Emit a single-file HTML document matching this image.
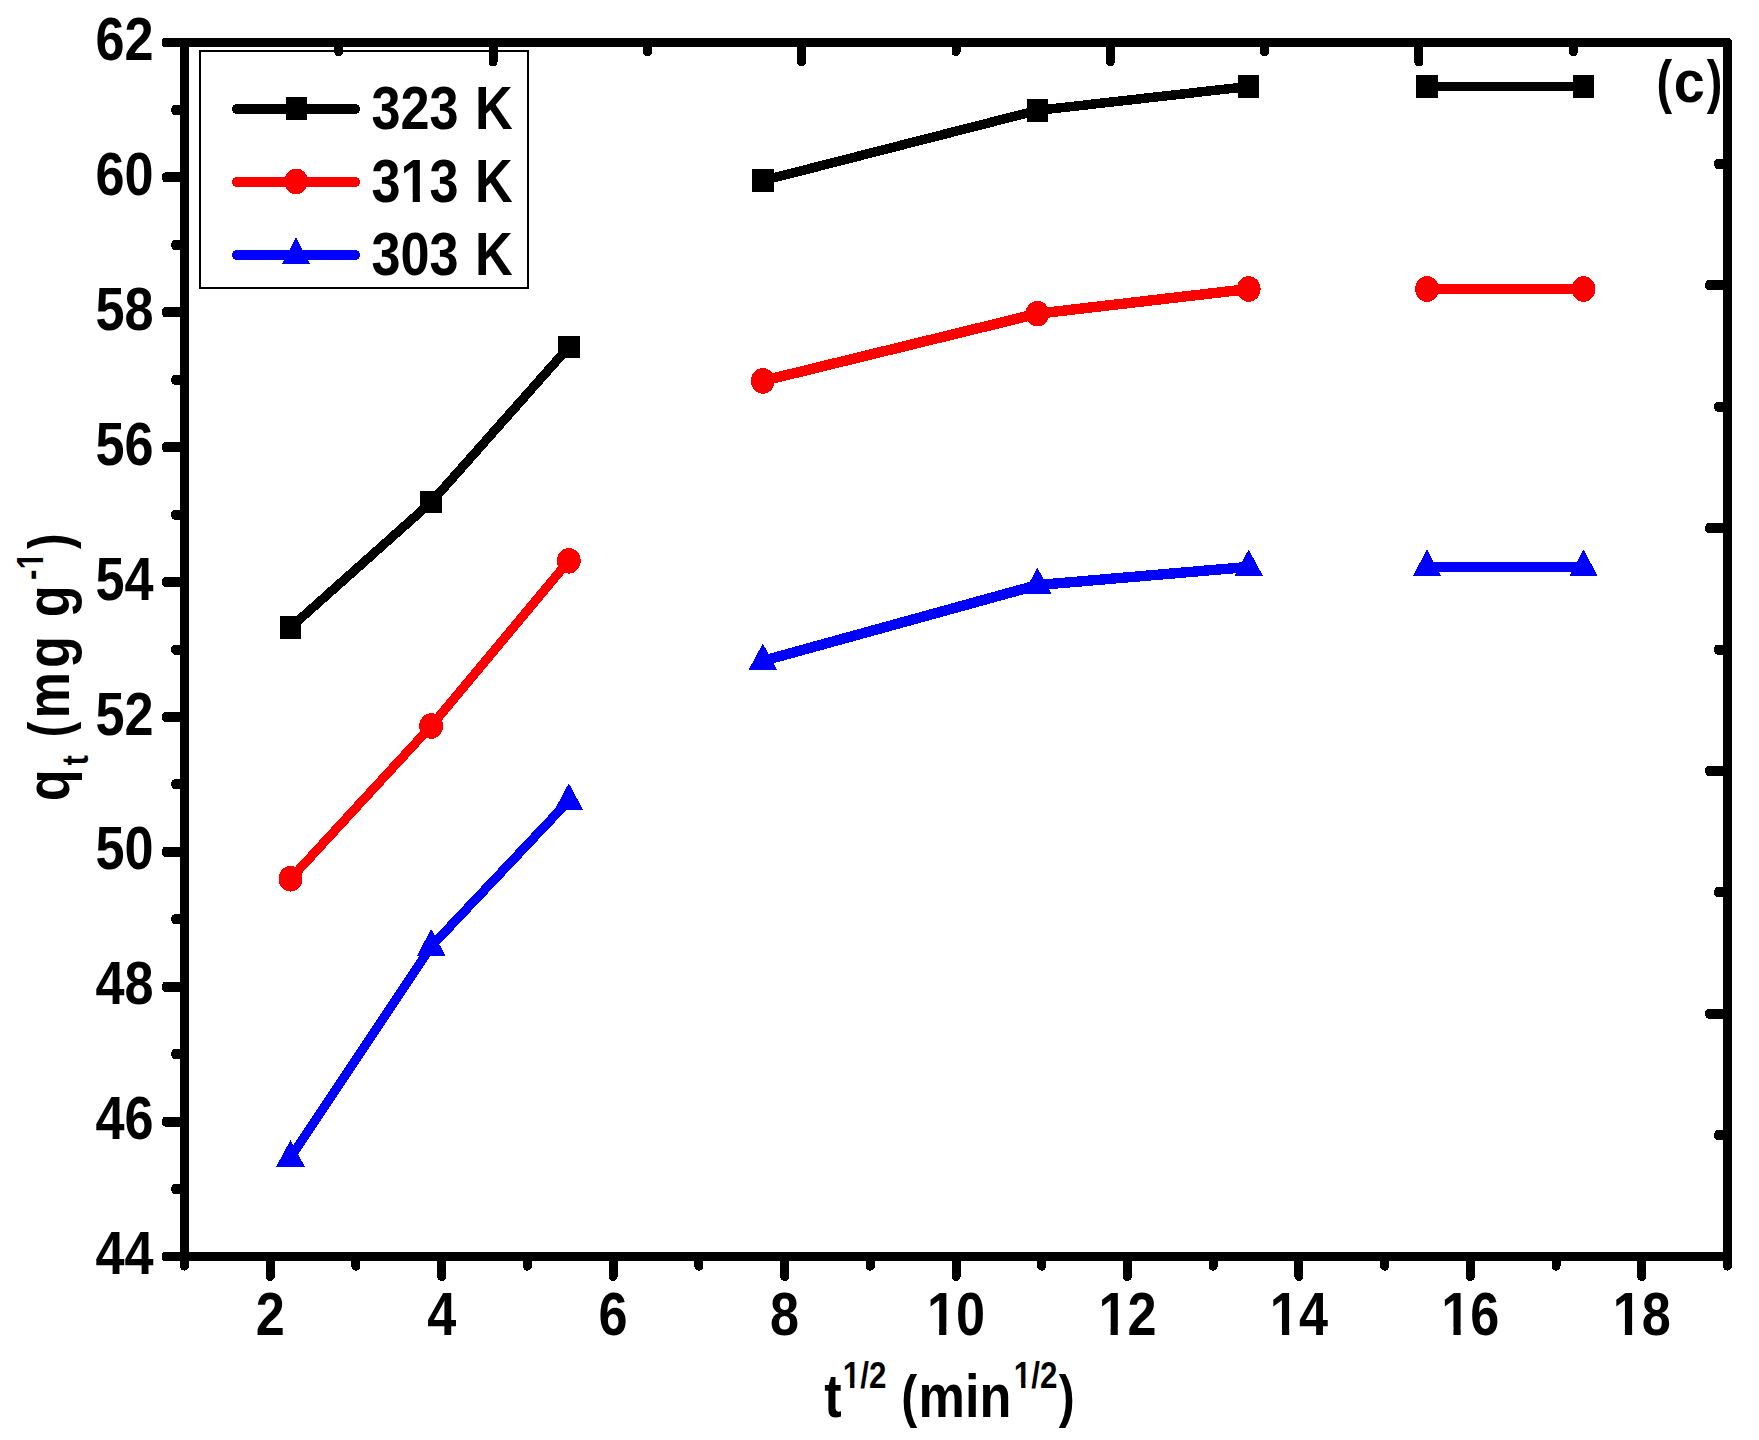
<!DOCTYPE html>
<html lang="en"><head><meta charset="utf-8"><title>Intraparticle diffusion plot (c)</title>
<style>html,body{margin:0;padding:0;background:#fff}svg{display:block}</style></head><body>
<svg width="1759" height="1440" viewBox="0 0 1759 1440" shape-rendering="crispEdges">
<rect width="1759" height="1440" fill="#fff"/>
<rect x="200" y="51" width="328" height="237" fill="#fff" stroke="#000" stroke-width="2"/>
<g stroke="#000" stroke-width="9" stroke-linecap="round" fill="none">
<path d="M184.5 42.5V1256.5M184.5 1256.5H1727.5" stroke-linecap="square"/>
<path d="M180.0 38H1729.8L1732 40.2V1261.0H1723V47H180.0Z" fill="#000" stroke="none"/>
<path d="M184.50 1256.5V1266.20M270.22 1256.5V1276.50M355.94 1256.5V1266.20M441.67 1256.5V1276.50M527.39 1256.5V1266.20M613.11 1256.5V1276.50M698.83 1256.5V1266.20M784.56 1256.5V1276.50M870.28 1256.5V1266.20M956.00 1256.5V1276.50M1041.72 1256.5V1266.20M1127.44 1256.5V1276.50M1213.17 1256.5V1266.20M1298.89 1256.5V1276.50M1384.61 1256.5V1266.20M1470.33 1256.5V1276.50M1556.06 1256.5V1266.20M1641.78 1256.5V1276.50M1727.50 1256.5V1266.20M338.80 42.5V51.80M493.10 42.5V62.00M647.40 42.5V51.80M801.70 42.5V62.00M956.00 42.5V51.80M1110.30 42.5V62.00M1264.60 42.5V51.80M1418.90 42.5V62.00M1573.20 42.5V51.80"/>
<path d="M184.5 1252.00H165.00A3.2 4.5 0 0 0 165.00 1261.00H184.5ZM184.5 1184.06H174.40A3.2 5.0 0 0 0 174.40 1194.06H184.5ZM184.5 1116.61H165.00A3.2 5.0 0 0 0 165.00 1126.61H184.5ZM184.5 1049.17H174.40A3.2 5.0 0 0 0 174.40 1059.17H184.5ZM184.5 981.72H165.00A3.2 5.0 0 0 0 165.00 991.72H184.5ZM184.5 914.28H174.40A3.2 5.0 0 0 0 174.40 924.28H184.5ZM184.5 846.83H165.00A3.2 5.0 0 0 0 165.00 856.83H184.5ZM184.5 779.39H174.40A3.2 5.0 0 0 0 174.40 789.39H184.5ZM184.5 711.94H165.00A3.2 5.0 0 0 0 165.00 721.94H184.5ZM184.5 644.50H174.40A3.2 5.0 0 0 0 174.40 654.50H184.5ZM184.5 577.06H165.00A3.2 5.0 0 0 0 165.00 587.06H184.5ZM184.5 509.61H174.40A3.2 5.0 0 0 0 174.40 519.61H184.5ZM184.5 442.17H165.00A3.2 5.0 0 0 0 165.00 452.17H184.5ZM184.5 374.72H174.40A3.2 5.0 0 0 0 174.40 384.72H184.5ZM184.5 307.28H165.00A3.2 5.0 0 0 0 165.00 317.28H184.5ZM184.5 239.83H174.40A3.2 5.0 0 0 0 174.40 249.83H184.5ZM184.5 172.39H165.00A3.2 5.0 0 0 0 165.00 182.39H184.5ZM184.5 104.94H174.40A3.2 5.0 0 0 0 174.40 114.94H184.5ZM184.5 38.00H165.00A3.2 4.5 0 0 0 165.00 47.00H184.5ZM1727.5 158.90H1717.20A3.2 5.0 0 0 0 1717.20 168.90H1727.5ZM1727.5 280.30H1708.20A3.2 5.0 0 0 0 1708.20 290.30H1727.5ZM1727.5 401.70H1717.20A3.2 5.0 0 0 0 1717.20 411.70H1727.5ZM1727.5 523.10H1708.20A3.2 5.0 0 0 0 1708.20 533.10H1727.5ZM1727.5 644.50H1717.20A3.2 5.0 0 0 0 1717.20 654.50H1727.5ZM1727.5 765.90H1708.20A3.2 5.0 0 0 0 1708.20 775.90H1727.5ZM1727.5 887.30H1717.20A3.2 5.0 0 0 0 1717.20 897.30H1727.5ZM1727.5 1008.70H1708.20A3.2 5.0 0 0 0 1708.20 1018.70H1727.5ZM1727.5 1130.10H1717.20A3.2 5.0 0 0 0 1717.20 1140.10H1727.5Z" fill="#000" stroke="none"/>
</g>
<g stroke="#000" fill="none" stroke-linejoin="round">
<polyline points="290.50,627.50 431.20,502.20 568.80,347.00" stroke-width="9.2"/>
<polyline points="762.80,180.60 1037.40,110.40 1248.70,86.50" stroke-width="9.5"/>
<polyline points="1427.00,86.50 1583.50,86.50" stroke-width="9"/>
</g>
<g><rect x="279.75" y="616.25" width="21.5" height="22.5" fill="#000"/><rect x="420.45" y="490.95" width="21.5" height="22.5" fill="#000"/><rect x="558.05" y="335.75" width="21.5" height="22.5" fill="#000"/><rect x="752.05" y="169.35" width="21.5" height="22.5" fill="#000"/><rect x="1026.65" y="99.15" width="21.5" height="22.5" fill="#000"/><rect x="1237.95" y="75.25" width="21.5" height="22.5" fill="#000"/><rect x="1416.25" y="75.25" width="21.5" height="22.5" fill="#000"/><rect x="1572.75" y="75.25" width="21.5" height="22.5" fill="#000"/></g>
<g stroke="#f00" fill="none" stroke-linejoin="round">
<polyline points="290.50,878.80 431.20,726.00 568.80,560.80" stroke-width="9.2"/>
<polyline points="762.80,380.90 1037.40,313.70 1248.70,289.00" stroke-width="10.4"/>
<polyline points="1427.00,289.00 1583.50,289.00" stroke-width="10"/>
</g>
<g><ellipse cx="290.50" cy="878.80" rx="11.9" ry="12.8" fill="#f00"/><ellipse cx="431.20" cy="726.00" rx="11.9" ry="12.8" fill="#f00"/><ellipse cx="568.80" cy="560.80" rx="11.9" ry="12.8" fill="#f00"/><ellipse cx="762.80" cy="380.90" rx="11.9" ry="12.8" fill="#f00"/><ellipse cx="1037.40" cy="313.70" rx="11.9" ry="12.8" fill="#f00"/><ellipse cx="1248.70" cy="289.00" rx="11.9" ry="12.8" fill="#f00"/><ellipse cx="1427.00" cy="289.00" rx="11.9" ry="12.8" fill="#f00"/><ellipse cx="1583.50" cy="289.00" rx="11.9" ry="12.8" fill="#f00"/></g>
<g stroke="#00f" fill="none" stroke-linejoin="round">
<polyline points="290.50,1157.50 431.20,946.50 568.80,800.70" stroke-width="9.2"/>
<polyline points="762.80,660.90 1037.40,585.10 1248.70,566.90" stroke-width="10.4"/>
<polyline points="1427.00,567.00 1583.50,567.00" stroke-width="10"/>
</g>
<g><path d="M290.50 1140.00L304.70 1166.50H276.30Z" fill="#00f"/><path d="M431.20 929.00L445.40 955.50H417.00Z" fill="#00f"/><path d="M568.80 783.20L583.00 809.70H554.60Z" fill="#00f"/><path d="M762.80 643.40L777.00 669.90H748.60Z" fill="#00f"/><path d="M1037.40 567.60L1051.60 594.10H1023.20Z" fill="#00f"/><path d="M1248.70 549.40L1262.90 575.90H1234.50Z" fill="#00f"/><path d="M1427.00 549.50L1441.20 576.00H1412.80Z" fill="#00f"/><path d="M1583.50 549.50L1597.70 576.00H1569.30Z" fill="#00f"/></g>
<line x1="237" y1="109" x2="355" y2="109" stroke="#000" stroke-width="10" stroke-linecap="round"/>
<rect x="285.75" y="97.25" width="21.5" height="22.5" fill="#000"/>
<line x1="237" y1="182" x2="355" y2="182" stroke="#f00" stroke-width="10" stroke-linecap="round"/>
<ellipse cx="296.10" cy="181.40" rx="11.9" ry="12.8" fill="#f00"/>
<line x1="237" y1="255" x2="355" y2="255" stroke="#00f" stroke-width="10" stroke-linecap="round"/>
<path d="M296.00 237.50L310.20 264.00H281.80Z" fill="#00f"/>
<text transform="translate(371.5 129.3) scale(0.856 1)" font-size="61" text-anchor="start" font-family="Liberation Sans, Arial, Helvetica, sans-serif" font-weight="bold" word-spacing="2.2">323 K</text>
<text transform="translate(371.5 202.3) scale(0.856 1)" font-size="61" text-anchor="start" font-family="Liberation Sans, Arial, Helvetica, sans-serif" font-weight="bold" word-spacing="2.2">313 K</text><rect transform="translate(371.5 202.3) scale(0.856 1)" x="35.75" y="-7.62" width="12.38" height="8.54" fill="#fff" shape-rendering="geometricPrecision"/><rect transform="translate(371.5 202.3) scale(0.856 1)" x="56.55" y="-7.62" width="10.92" height="8.54" fill="#fff" shape-rendering="geometricPrecision"/>
<text transform="translate(371.5 275.3) scale(0.856 1)" font-size="61" text-anchor="start" font-family="Liberation Sans, Arial, Helvetica, sans-serif" font-weight="bold" word-spacing="2.2">303 K</text>
<text transform="translate(153.5 1274.1) scale(0.856 1)" font-size="61" text-anchor="end" font-family="Liberation Sans, Arial, Helvetica, sans-serif" font-weight="bold" >44</text>
<text transform="translate(153.5 1139.211111111111) scale(0.856 1)" font-size="61" text-anchor="end" font-family="Liberation Sans, Arial, Helvetica, sans-serif" font-weight="bold" >46</text>
<text transform="translate(153.5 1004.3222222222222) scale(0.856 1)" font-size="61" text-anchor="end" font-family="Liberation Sans, Arial, Helvetica, sans-serif" font-weight="bold" >48</text>
<text transform="translate(153.5 869.4333333333334) scale(0.856 1)" font-size="61" text-anchor="end" font-family="Liberation Sans, Arial, Helvetica, sans-serif" font-weight="bold" >50</text>
<text transform="translate(153.5 734.5444444444445) scale(0.856 1)" font-size="61" text-anchor="end" font-family="Liberation Sans, Arial, Helvetica, sans-serif" font-weight="bold" >52</text>
<text transform="translate(153.5 599.6555555555556) scale(0.856 1)" font-size="61" text-anchor="end" font-family="Liberation Sans, Arial, Helvetica, sans-serif" font-weight="bold" >54</text>
<text transform="translate(153.5 464.7666666666667) scale(0.856 1)" font-size="61" text-anchor="end" font-family="Liberation Sans, Arial, Helvetica, sans-serif" font-weight="bold" >56</text>
<text transform="translate(153.5 329.8777777777778) scale(0.856 1)" font-size="61" text-anchor="end" font-family="Liberation Sans, Arial, Helvetica, sans-serif" font-weight="bold" >58</text>
<text transform="translate(153.5 194.98888888888888) scale(0.856 1)" font-size="61" text-anchor="end" font-family="Liberation Sans, Arial, Helvetica, sans-serif" font-weight="bold" >60</text>
<text transform="translate(153.5 60.1) scale(0.856 1)" font-size="61" text-anchor="end" font-family="Liberation Sans, Arial, Helvetica, sans-serif" font-weight="bold" >62</text>
<text transform="translate(270.22222222222223 1335) scale(0.856 1)" font-size="61" text-anchor="middle" font-family="Liberation Sans, Arial, Helvetica, sans-serif" font-weight="bold" >2</text>
<text transform="translate(441.6666666666667 1335) scale(0.856 1)" font-size="61" text-anchor="middle" font-family="Liberation Sans, Arial, Helvetica, sans-serif" font-weight="bold" >4</text>
<text transform="translate(613.1111111111111 1335) scale(0.856 1)" font-size="61" text-anchor="middle" font-family="Liberation Sans, Arial, Helvetica, sans-serif" font-weight="bold" >6</text>
<text transform="translate(784.5555555555555 1335) scale(0.856 1)" font-size="61" text-anchor="middle" font-family="Liberation Sans, Arial, Helvetica, sans-serif" font-weight="bold" >8</text>
<text transform="translate(956.0 1335) scale(0.856 1)" font-size="61" text-anchor="middle" font-family="Liberation Sans, Arial, Helvetica, sans-serif" font-weight="bold" >10</text><rect transform="translate(956.0 1335) scale(0.856 1)" x="-32.09" y="-7.62" width="12.38" height="8.54" fill="#fff" shape-rendering="geometricPrecision"/><rect transform="translate(956.0 1335) scale(0.856 1)" x="-11.29" y="-7.62" width="10.92" height="8.54" fill="#fff" shape-rendering="geometricPrecision"/>
<text transform="translate(1127.4444444444443 1335) scale(0.856 1)" font-size="61" text-anchor="middle" font-family="Liberation Sans, Arial, Helvetica, sans-serif" font-weight="bold" >12</text><rect transform="translate(1127.4444444444443 1335) scale(0.856 1)" x="-32.09" y="-7.62" width="12.38" height="8.54" fill="#fff" shape-rendering="geometricPrecision"/><rect transform="translate(1127.4444444444443 1335) scale(0.856 1)" x="-11.29" y="-7.62" width="10.92" height="8.54" fill="#fff" shape-rendering="geometricPrecision"/>
<text transform="translate(1298.888888888889 1335) scale(0.856 1)" font-size="61" text-anchor="middle" font-family="Liberation Sans, Arial, Helvetica, sans-serif" font-weight="bold" >14</text><rect transform="translate(1298.888888888889 1335) scale(0.856 1)" x="-32.09" y="-7.62" width="12.38" height="8.54" fill="#fff" shape-rendering="geometricPrecision"/><rect transform="translate(1298.888888888889 1335) scale(0.856 1)" x="-11.29" y="-7.62" width="10.92" height="8.54" fill="#fff" shape-rendering="geometricPrecision"/>
<text transform="translate(1470.3333333333333 1335) scale(0.856 1)" font-size="61" text-anchor="middle" font-family="Liberation Sans, Arial, Helvetica, sans-serif" font-weight="bold" >16</text><rect transform="translate(1470.3333333333333 1335) scale(0.856 1)" x="-32.09" y="-7.62" width="12.38" height="8.54" fill="#fff" shape-rendering="geometricPrecision"/><rect transform="translate(1470.3333333333333 1335) scale(0.856 1)" x="-11.29" y="-7.62" width="10.92" height="8.54" fill="#fff" shape-rendering="geometricPrecision"/>
<text transform="translate(1641.7777777777778 1335) scale(0.856 1)" font-size="61" text-anchor="middle" font-family="Liberation Sans, Arial, Helvetica, sans-serif" font-weight="bold" >18</text><rect transform="translate(1641.7777777777778 1335) scale(0.856 1)" x="-32.09" y="-7.62" width="12.38" height="8.54" fill="#fff" shape-rendering="geometricPrecision"/><rect transform="translate(1641.7777777777778 1335) scale(0.856 1)" x="-11.29" y="-7.62" width="10.92" height="8.54" fill="#fff" shape-rendering="geometricPrecision"/>
<g><text transform="translate(1656.45 101.5) scale(0.8 1)" font-size="58.7" text-anchor="start" font-family="Liberation Sans, Arial, Helvetica, sans-serif" font-weight="bold" >(</text><text transform="translate(1673.72 102.3) scale(0.93 1)" font-size="60" text-anchor="start" font-family="Liberation Sans, Arial, Helvetica, sans-serif" font-weight="bold" >c</text><text transform="translate(1706.75 101.5) scale(0.8 1)" font-size="58.7" text-anchor="start" font-family="Liberation Sans, Arial, Helvetica, sans-serif" font-weight="bold" >)</text></g>
<g>
<text transform="translate(824.17 1416.7) scale(0.856 1)" font-size="61" text-anchor="start" font-family="Liberation Sans, Arial, Helvetica, sans-serif" font-weight="bold" >t</text>
<text transform="translate(842.83 1387.7) scale(0.856 1)" font-size="36.6" text-anchor="start" font-family="Liberation Sans, Arial, Helvetica, sans-serif" font-weight="bold" >1/2</text><rect transform="translate(842.83 1387.7) scale(0.856 1)" x="1.10" y="-4.58" width="7.43" height="5.12" fill="#fff" shape-rendering="geometricPrecision"/><rect transform="translate(842.83 1387.7) scale(0.856 1)" x="13.58" y="-4.58" width="6.55" height="5.12" fill="#fff" shape-rendering="geometricPrecision"/>
<text transform="translate(901.31 1415.9) scale(0.825 1)" font-size="58" text-anchor="start" font-family="Liberation Sans, Arial, Helvetica, sans-serif" font-weight="bold" >(</text>
<text transform="translate(918.55 1416.7) scale(0.856 1)" font-size="61" text-anchor="start" font-family="Liberation Sans, Arial, Helvetica, sans-serif" font-weight="bold" >min</text>
<text transform="translate(1013.83 1387.7) scale(0.856 1)" font-size="36.6" text-anchor="start" font-family="Liberation Sans, Arial, Helvetica, sans-serif" font-weight="bold" >1/2</text><rect transform="translate(1013.83 1387.7) scale(0.856 1)" x="1.10" y="-4.58" width="7.43" height="5.12" fill="#fff" shape-rendering="geometricPrecision"/><rect transform="translate(1013.83 1387.7) scale(0.856 1)" x="13.58" y="-4.58" width="6.55" height="5.12" fill="#fff" shape-rendering="geometricPrecision"/>
<text transform="translate(1058.65 1415.9) scale(0.825 1)" font-size="58" text-anchor="start" font-family="Liberation Sans, Arial, Helvetica, sans-serif" font-weight="bold" >)</text>
</g>
<g>
<text transform="translate(69.2 801.14) rotate(-90) scale(0.856 1)" font-size="61" font-family="Liberation Sans, Arial, Helvetica, sans-serif" font-weight="bold" >q</text>
<text transform="translate(87.7 765.38) rotate(-90) scale(0.856 1)" font-size="36.6" font-family="Liberation Sans, Arial, Helvetica, sans-serif" font-weight="bold" >t</text>
<text transform="translate(69.0 737.32) rotate(-90) scale(0.8 1)" font-size="58" font-family="Liberation Sans, Arial, Helvetica, sans-serif" font-weight="bold" >(</text>
<text transform="translate(69.2 718.45) rotate(-90) scale(0.856 1)" font-size="61" font-family="Liberation Sans, Arial, Helvetica, sans-serif" font-weight="bold" letter-spacing="4.78" word-spacing="-4.44">mg g</text>
<text transform="translate(43.1 579.97) rotate(-90) scale(0.856 1)" font-size="36.6" font-family="Liberation Sans, Arial, Helvetica, sans-serif" font-weight="bold" >-1</text><rect transform="translate(43.1 579.97) rotate(-90) scale(0.856 1)" x="13.29" y="-4.58" width="7.43" height="5.12" fill="#fff" shape-rendering="geometricPrecision"/><rect transform="translate(43.1 579.97) rotate(-90) scale(0.856 1)" x="25.77" y="-4.58" width="6.55" height="5.12" fill="#fff" shape-rendering="geometricPrecision"/>
<text transform="translate(69.0 549.05) rotate(-90) scale(0.8 1)" font-size="58" font-family="Liberation Sans, Arial, Helvetica, sans-serif" font-weight="bold" >)</text>
</g>
</svg></body></html>
